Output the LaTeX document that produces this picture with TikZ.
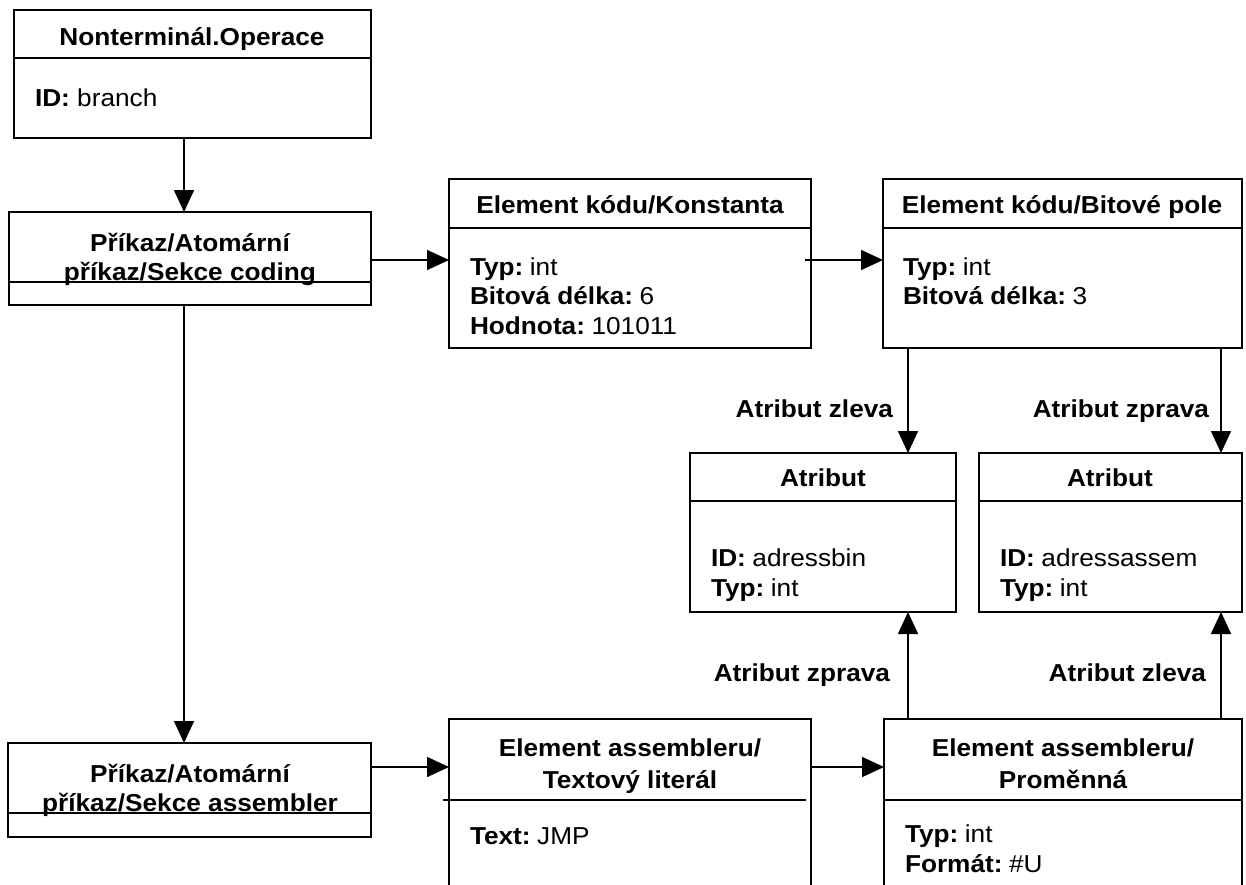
\documentclass[tikz,border=0pt]{standalone}
\usepackage{fontspec}
\setmainfont[FakeStretch=1.07]{Liberation Sans}
\usetikzlibrary{arrows.meta}
\newcommand\fsz{\fontsize{24.5}{29.5}\selectfont}
\newcommand\kv[2]{\textbf{#1}\hspace{6.5pt}#2}
\tikzset{
  box/.style={draw, rectangle, line width=1.6pt, inner sep=0pt, outer sep=0pt, anchor=north west},
  div/.style={line width=1.6pt},
  arr/.style={line width=1.6pt, -{Triangle[length=22pt,width=20pt]}},
  txt/.style={inner sep=0pt, outer sep=0pt, font=\fsz},
  ttl/.style={txt, anchor=base, font=\fsz\bfseries},
  itm/.style={txt, anchor=base west},
  lbl/.style={txt, anchor=base east, font=\fsz\bfseries},
}
\begin{document}
\begin{tikzpicture}[x=1pt, y=-1pt]
\useasboundingbox (0,0) rectangle (1246,884);
\clip (0,0) rectangle (1246,884);
% boxes
\node[box, minimum width=357pt, minimum height=128pt] (op) at (14,10) {};
\node[box, minimum width=362pt, minimum height=93pt] (coding) at (9,212) {};
\node[box, minimum width=362pt, minimum height=169pt] (konst) at (449,179) {};
\node[box, minimum width=359pt, minimum height=169pt] (bitp) at (883,179) {};
\node[box, minimum width=266pt, minimum height=159pt] (at1) at (690,453) {};
\node[box, minimum width=263pt, minimum height=159pt] (at2) at (979,453) {};
\node[box, minimum width=363pt, minimum height=94pt] (asm) at (8,743) {};
\node[box, minimum width=362pt, minimum height=200pt] (tlit) at (449,719) {};
\node[box, minimum width=358pt, minimum height=200pt] (prom) at (884,719) {};
% dividers
\draw[div] (14,58) -- (371,58);
\draw[div] (9,282) -- (371,282);
\draw[div] (449,228) -- (811,228);
\draw[div] (883,228) -- (1242,228);
\draw[div] (690,501) -- (956,501);
\draw[div] (979,501) -- (1242,501);
\draw[div] (8,813) -- (371,813);
\draw[div] (443,800) -- (806,800);
\draw[div] (884,800) -- (1242,800);
% helper coordinates
\coordinate (xa) at (184,0);
\coordinate (xb) at (908,0);
\coordinate (xc) at (1221,0);
\coordinate (ya) at (0,260);
\coordinate (yb) at (0,767);
\coordinate (ks) at (805,260);
% connectors
\draw[arr] (op.south -| xa) -- (coding.north -| xa);
\draw[arr] (coding.south -| xa) -- (asm.north -| xa);
\draw[arr] (coding.east |- ya) -- (konst.west |- ya);
\draw[arr] (ks) -- (bitp.west |- ya);
\draw[arr] (bitp.south -| xb) -- (at1.north -| xb);
\draw[arr] (bitp.south -| xc) -- (at2.north -| xc);
\draw[arr] (asm.east |- yb) -- (tlit.west |- yb);
\draw[arr] (tlit.east |- yb) -- (prom.west |- yb);
\draw[arr] (prom.north -| xb) -- (at1.south -| xb);
\draw[arr] (prom.north -| xc) -- (at2.south -| xc);
% texts
\node[ttl] (op-t) at (192,45) {Nonterminál.Operace};
\node[itm] (op-i) at (35,106) {\textbf{ID:} branch};
\node[ttl] (cod-t1) at (190,251) {Příkaz/Atomární};
\node[ttl] (cod-t2) at (190,280) {příkaz/Sekce coding};
\node[ttl] (kon-t) at (630,213) {Element kódu/Konstanta};
\node[itm] (kon-i1) at (470,275) {\kv{Typ:}{int}};
\node[itm] (kon-i2) at (470,304) {\kv{Bitová délka:}{6}};
\node[itm] (kon-i3) at (470,334) {\kv{Hodnota:}{101011}};
\node[ttl] (bit-t) at (1062,213) {Element kódu/Bitové pole};
\node[itm] (bit-i1) at (903,275) {\kv{Typ:}{int}};
\node[itm] (bit-i2) at (903,304) {\kv{Bitová délka:}{3}};
\node[lbl] (l1) at (893,417) {Atribut zleva};
\node[lbl] (l2) at (1209,417) {Atribut zprava};
\node[ttl] (at1-t) at (823,486) {Atribut};
\node[itm] (at1-i1) at (711,566) {\kv{ID:}{adressbin}};
\node[itm] (at1-i2) at (711,596) {\kv{Typ:}{int}};
\node[ttl] (at2-t) at (1110,486) {Atribut};
\node[itm] (at2-i1) at (1000,566) {\kv{ID:}{adressassem}};
\node[itm] (at2-i2) at (1000,596) {\kv{Typ:}{int}};
\node[lbl] (l3) at (890,681) {Atribut zprava};
\node[lbl] (l4) at (1206,681) {Atribut zleva};
\node[ttl] (asm-t1) at (190,782) {Příkaz/Atomární};
\node[ttl] (asm-t2) at (190,811) {příkaz/Sekce assembler};
\node[ttl] (tl-t1) at (630,756) {Element assembleru/};
\node[ttl] (tl-t2) at (630,788) {Textový literál};
\node[itm] (tl-i1) at (470,844) {\kv{Text:}{JMP}};
\node[ttl] (pr-t1) at (1063,756) {Element assembleru/};
\node[ttl] (pr-t2) at (1063,788) {Proměnná};
\node[itm] (pr-i1) at (905,842) {\kv{Typ:}{int}};
\node[itm] (pr-i2) at (905,872) {\kv{Formát:}{\#U}};
\end{tikzpicture}
\end{document}
